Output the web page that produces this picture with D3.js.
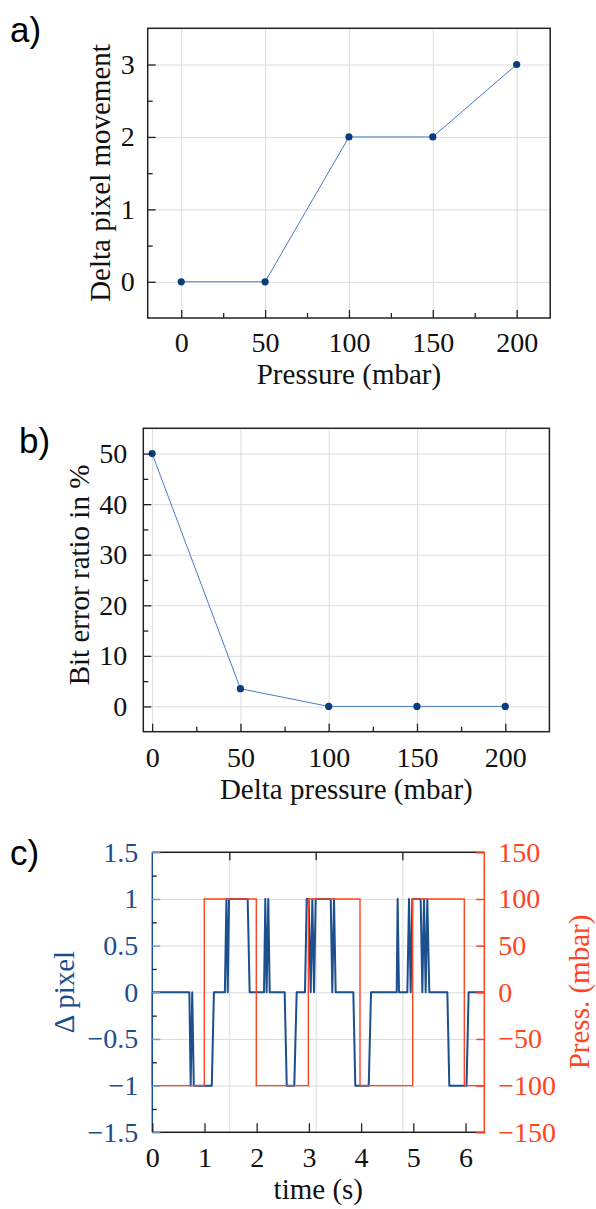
<!DOCTYPE html>
<html>
<head>
<meta charset="utf-8">
<script src="https://cdn.jsdelivr.net/npm/d3@7"></script>
<style>
    body { margin: 0; background: #fff; }
    svg text { font-family: "Liberation Serif", "Times New Roman", serif; }
    .grid line { stroke: #dcdcdc; stroke-width: 1; }
    .grid .domain { display: none; }
    .ticks .domain { display: none; }
    .panel-label { font-family: "Liberation Sans", Arial, sans-serif !important; }
</style>
</head>
<body>
<div id="figure"></div>
<script>
// a) pixel movement vs pressure
var pressure = [0, 50, 100, 150, 200];
var deltaPixel = [0, 0, 2, 2, 3];

// b) bit error ratio vs delta pressure
var deltaPressure = [0, 50, 100, 150, 200];
var bitErrorRatio = [50, 3.5, 0, 0, 0];

// c) time traces
var pixelTime = [0, 0.71, 0.735, 0.765, 0.795, 1.14, 1.18, 1.39, 1.42, 1.445, 1.47, 1.827, 1.865,
    2.14, 2.165, 2.19, 2.222, 2.249, 2.536, 2.575, 2.72, 2.766, 2.925, 2.958, 2.996, 3.034, 3.066,
    3.098, 3.13, 3.418, 3.448, 3.481, 3.513, 3.851, 3.889, 4.146, 4.19, 4.682, 4.70, 4.726, 4.886,
    4.918, 4.95, 4.981, 5.141, 5.173, 5.205, 5.237, 5.268, 5.307, 5.652, 5.69, 6.02, 6.06, 6.36];
var pixelValue = [0, 0, -1, 0, -1, -1, 0, 0, 1, 0, 1, 1, 0,
    0, 1, 0, 1, 0, 0, -1, -1, 0, 0, 1, 1, 0, 1,
    0, 1, 1, 0, 1, 0, 0, -1, -1, 0, 0, 1, 0, 0,
    1, 0, 1, 1, 0, 1, 0, 1, 0, 0, -1, -1, 0, 0];
var pressTime = [0, 0, 0.996, 1.992, 2.989, 3.979, 4.988, 5.977, 6.36];
var pressValue = [0, -100, 100, -100, 100, -100, 100, -100, -100];

// ticks
var aXTicks = [0, 50, 100, 150, 200], aXMinor = [25, 75, 125, 175];
var aYTicks = [0, 1, 2, 3], aYMinor = [0.5, 1.5, 2.5];
var bXTicks = [0, 50, 100, 150, 200], bXMinor = [25, 75, 125, 175];
var bYTicks = [0, 10, 20, 30, 40, 50], bYMinor = [5, 15, 25, 35, 45];
var cXTicks = [0, 1, 2, 3, 4, 5, 6];
var cTopTicks = [1.475, 3.13, 4.79];
var cYTicks = [-1.5, -1, -0.5, 0, 0.5, 1, 1.5], cYMinor = [-1.25, -0.75, -0.25, 0.25, 0.75, 1.25];
var cY2Ticks = [-150, -100, -50, 0, 50, 100, 150];

var BLUE = "#1b4f8e", RED = "#ff4422", MARK = "#0b3c7d", THIN = "#4a7bbf";

var svg = d3.select("#figure").append("svg")
    .attr("width", 596)
    .attr("height", 1209);

function minusFmt(d) {
    return (d < 0 ? "\u2212" : "") + Math.abs(d);
}

function styleTicks(sel, color, width) {
    sel.selectAll(".tick line").attr("stroke", color).attr("stroke-width", width);
    sel.selectAll(".tick text").attr("fill", "#111").attr("font-size", 28)
        .attr("font-family", "Liberation Serif, serif");
    sel.attr("font-family", null).attr("font-size", null);
}

// generic scatter+line panel (a and b)
function simplePanel(opt) {
    var w = opt.right - opt.left, h = opt.bottom - opt.top;
    var g = svg.append("g").attr("transform", "translate(" + opt.left + "," + opt.top + ")");
    var x = d3.scaleLinear().domain(opt.xDomain).range([0, w]);
    var y = d3.scaleLinear().domain(opt.yDomain).range([h, 0]);

    // grid
    g.append("g").attr("class", "grid").attr("transform", "translate(0," + h + ")")
        .call(d3.axisBottom(x).tickValues(opt.xTicks).tickSize(-h).tickFormat(""));
    g.append("g").attr("class", "grid")
        .call(d3.axisLeft(y).tickValues(opt.yTicks).tickSize(-w).tickFormat(""));

    var pts = opt.xs.map(function (d, i) { return {x: d, y: opt.ys[i]}; });
    var line = d3.line().x(function (d) { return x(d.x); }).y(function (d) { return y(d.y); });
    g.append("path").datum(pts)
        .attr("d", line)
        .attr("fill", "none")
        .attr("stroke", THIN)
        .attr("stroke-width", 1);
    g.selectAll("circle.pt").data(pts).enter().append("circle")
        .attr("class", "pt")
        .attr("cx", function (d) { return x(d.x); })
        .attr("cy", function (d) { return y(d.y); })
        .attr("r", 3.6)
        .attr("fill", MARK);

    // frame
    g.append("rect").attr("width", w).attr("height", h)
        .attr("fill", "none").attr("stroke", "#222").attr("stroke-width", 1.5);

    // ticks (inward)
    var xa = g.append("g").attr("class", "ticks").attr("transform", "translate(0," + h + ")")
        .call(d3.axisBottom(x).tickValues(opt.xTicks).tickSize(-8).tickPadding(opt.xPad).tickFormat(minusFmt));
    styleTicks(xa, "#222", 1.3);
    var xm = g.append("g").attr("class", "ticks").attr("transform", "translate(0," + h + ")")
        .call(d3.axisBottom(x).tickValues(opt.xMinor).tickSize(-5).tickFormat(""));
    styleTicks(xm, "#222", 1.3);
    var ya = g.append("g").attr("class", "ticks")
        .call(d3.axisLeft(y).tickValues(opt.yTicks).tickSize(-8).tickPadding(opt.yPad).tickFormat(minusFmt));
    styleTicks(ya, "#222", 1.3);
    var ym = g.append("g").attr("class", "ticks")
        .call(d3.axisLeft(y).tickValues(opt.yMinor).tickSize(-5).tickFormat(""));
    styleTicks(ym, "#222", 1.3);

    // labels
    svg.append("text")
        .attr("x", opt.left + w / 2).attr("y", opt.xLabelY)
        .attr("text-anchor", "middle").attr("font-size", 29).attr("fill", "#111")
        .text(opt.xLabel);
    svg.append("text")
        .attr("transform", "translate(" + opt.yLabelX + "," + opt.yLabelCy + ") rotate(-90)")
        .attr("text-anchor", "middle").attr("font-size", 29).attr("fill", "#111")
        .text(opt.yLabel);
    svg.append("text").attr("class", "panel-label")
        .attr("x", opt.tagX).attr("y", opt.tagY)
        .attr("font-size", 35).attr("fill", "#000")
        .text(opt.tag);
}

simplePanel({
    left: 147.7, right: 550.2, top: 28.3, bottom: 318,
    xDomain: [-20, 220], yDomain: [-0.5, 3.5],
    xTicks: aXTicks, xMinor: aXMinor, yTicks: aYTicks, yMinor: aYMinor,
    xs: pressure, ys: deltaPixel,
    xPad: 14, yPad: 13,
    xLabel: "Pressure (mbar)", xLabelY: 384,
    yLabel: "Delta pixel movement", yLabelX: 110, yLabelCy: 173,
    tag: "a)", tagX: 10, tagY: 42
});

simplePanel({
    left: 143.3, right: 549.4, top: 428.3, bottom: 731.7,
    xDomain: [-5, 225], yDomain: [-5, 55],
    xTicks: bXTicks, xMinor: bXMinor, yTicks: bYTicks, yMinor: bYMinor,
    xs: deltaPressure, ys: bitErrorRatio,
    xPad: 15, yPad: 16,
    xLabel: "Delta pressure (mbar)", xLabelY: 799,
    yLabel: "Bit error ratio in %", yLabelX: 88.5, yLabelCy: 575,
    tag: "b)", tagX: 19, tagY: 453
});

// panel c: twin axes
(function () {
    var left = 152.3, right = 484.3, top = 852.3, bottom = 1132.3;
    var w = right - left, h = bottom - top;
    var g = svg.append("g").attr("transform", "translate(" + left + "," + top + ")");
    var x = d3.scaleLinear().domain([0, 6.36]).range([0, w]);
    var y = d3.scaleLinear().domain([-1.5, 1.5]).range([h, 0]);
    var y2 = d3.scaleLinear().domain([-150, 150]).range([h, 0]);

    g.append("g").attr("class", "grid")
        .call(d3.axisLeft(y).tickValues(cYTicks).tickSize(-w).tickFormat(""));
    g.append("g").attr("class", "grid").attr("transform", "translate(0," + h + ")")
        .call(d3.axisBottom(x).tickValues(cTopTicks).tickSize(-h).tickFormat(""));

    var bluePts = pixelTime.map(function (t, i) { return {t: t, v: pixelValue[i]}; });
    g.append("path").datum(bluePts)
        .attr("d", d3.line().x(function (d) { return x(d.t); }).y(function (d) { return y(d.v); }))
        .attr("fill", "none").attr("stroke", BLUE).attr("stroke-width", 2)
        .attr("stroke-linejoin", "round");

    var redPts = pressTime.map(function (t, i) { return {t: t, v: pressValue[i]}; });
    g.append("path").datum(redPts)
        .attr("d", d3.line().curve(d3.curveStepAfter)
            .x(function (d) { return x(d.t); }).y(function (d) { return y2(d.v); }))
        .attr("fill", "none").attr("stroke", RED).attr("stroke-width", 1.4);

    // spines
    g.append("line").attr("x1", 0).attr("x2", w).attr("y1", 0).attr("y2", 0)
        .attr("stroke", "#222").attr("stroke-width", 1.5);
    g.append("line").attr("x1", 0).attr("x2", w).attr("y1", h).attr("y2", h)
        .attr("stroke", "#222").attr("stroke-width", 1.5);
    g.append("line").attr("x1", 0).attr("x2", 0).attr("y1", 0).attr("y2", h)
        .attr("stroke", BLUE).attr("stroke-width", 1.5);
    g.append("line").attr("x1", w).attr("x2", w).attr("y1", 0).attr("y2", h + 1)
        .attr("stroke", RED).attr("stroke-width", 1.5);

    // ticks
    var xa = g.append("g").attr("class", "ticks").attr("transform", "translate(0," + h + ")")
        .call(d3.axisBottom(x).tickValues(cXTicks).tickSize(-9).tickPadding(15).tickFormat(minusFmt));
    styleTicks(xa, "#222", 1.3);
    var xt = g.append("g").attr("class", "ticks")
        .call(d3.axisTop(x).tickValues(cTopTicks).tickSize(-8).tickFormat(""));
    styleTicks(xt, "#222", 1.3);

    var ya = g.append("g").attr("class", "ticks")
        .call(d3.axisLeft(y).tickValues(cYTicks).tickSize(-8).tickPadding(14).tickFormat(minusFmt));
    styleTicks(ya, "#7c9cc8", 1.5);
    ya.selectAll(".tick text").attr("fill", BLUE);
    var ym = g.append("g").attr("class", "ticks")
        .call(d3.axisLeft(y).tickValues(cYMinor).tickSize(-4.5).tickFormat(""));
    styleTicks(ym, "#222", 1.3);

    var yb = g.append("g").attr("class", "ticks").attr("transform", "translate(" + w + ",0)")
        .call(d3.axisRight(y2).tickValues(cY2Ticks).tickSize(-8).tickPadding(14).tickFormat(minusFmt));
    styleTicks(yb, RED, 1.5);
    yb.selectAll(".tick text").attr("fill", RED);

    svg.append("text")
        .attr("x", left + w / 2).attr("y", 1199)
        .attr("text-anchor", "middle").attr("font-size", 29).attr("fill", "#111")
        .text("time (s)");
    svg.append("text")
        .attr("transform", "translate(74,992) rotate(-90)")
        .attr("text-anchor", "middle").attr("font-size", 29).attr("fill", BLUE)
        .text("\u0394 pixel");
    svg.append("text")
        .attr("transform", "translate(589,992) rotate(-90)")
        .attr("text-anchor", "middle").attr("font-size", 29).attr("fill", RED)
        .text("Press. (mbar)");
    svg.append("text").attr("class", "panel-label")
        .attr("x", 10).attr("y", 865)
        .attr("font-size", 35).attr("fill", "#000")
        .text("c)");
})();
</script>
</body>
</html>
